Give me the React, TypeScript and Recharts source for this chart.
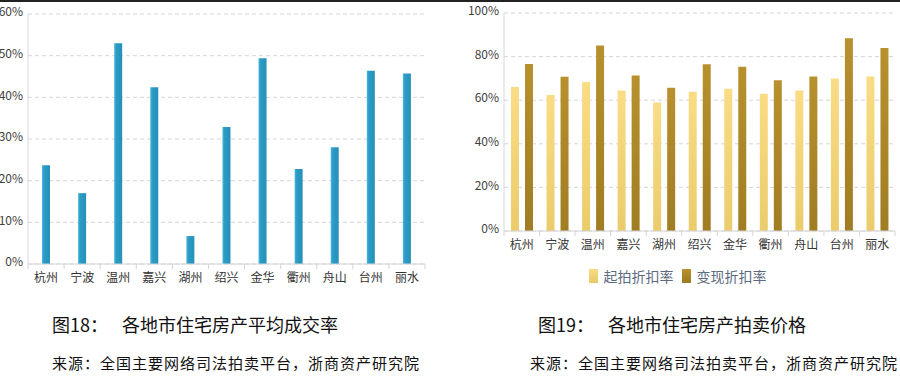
import React from 'react';
import { BarChart, Bar, XAxis, YAxis, CartesianGrid, Legend } from 'recharts';

// cities shared by both charts
const cities = ['杭州', '宁波', '温州', '嘉兴', '湖州', '绍兴', '金华', '衢州', '舟山', '台州', '丽水'];

// fig 18: average deal rate (%)
const dealRate = [23.7, 17.0, 53.0, 42.4, 6.7, 32.9, 49.4, 22.8, 28.0, 46.4, 45.7];

// fig 19: starting discount vs realised discount (%)
const startDiscount = [66.1, 62.4, 68.4, 64.4, 59.0, 63.9, 65.3, 63.0, 64.5, 70.0, 70.9];
const realDiscount = [76.6, 70.7, 85.1, 71.3, 65.7, 76.5, 75.3, 69.1, 70.9, 88.4, 84.0];

const leftTicks = [0, 10, 20, 30, 40, 50, 60];
const rightTicks = [0, 20, 40, 60, 80, 100];

const rateData = cities.map((c, i) => ({ city: c, rate: dealRate[i] }));
const priceData = cities.map((c, i) => ({ city: c, start: startDiscount[i], real: realDiscount[i] }));

const FONT = "'Noto Sans CJK SC', 'Noto Sans', sans-serif";

// category label plus a small divider tick at the left edge of the band
const CityTick = ({ x, y, payload, band }: any) => (
  <g>
    <line x1={x - band / 2} y1={y - 8} x2={x - band / 2} y2={y - 3} stroke="#d4d4d4" />
    {payload.index === cities.length - 1 && (
      <line x1={x + band / 2} y1={y - 8} x2={x + band / 2} y2={y - 3} stroke="#d4d4d4" />
    )}
    <text x={x} y={y + 10} textAnchor="middle" fontSize={12} fill="#333" fontFamily={FONT}>
      {payload.value}
    </text>
  </g>
);

const PriceLegend = () => (
  <div style={{ display: 'flex', justifyContent: 'center', alignItems: 'center', paddingTop: 4, fontFamily: FONT, fontSize: 14, color: '#5d6b80' }}>
    <span style={{ display: 'inline-block', width: 9, height: 14, background: 'linear-gradient(#f8dc85,#e9c965)', marginRight: 6 }} />
    <span style={{ marginRight: 8 }}>起拍折扣率</span>
    <span style={{ display: 'inline-block', width: 9, height: 14, background: 'linear-gradient(#b8922e,#9c7a22)', marginRight: 6 }} />
    <span>变现折扣率</span>
  </div>
);

const Caption = ({ left, fig, title }: any) => (
  <div style={{ position: 'absolute', left, top: 311, fontSize: 18, color: '#111', fontFamily: FONT, whiteSpace: 'nowrap' }}>
    {fig}<span style={{ marginLeft: 14 }}>{title}</span>
  </div>
);

export default function App() {
  return (
    <div style={{ position: 'absolute', left: 0, top: 0, width: 900, height: 380, background: '#fff', overflow: 'hidden' }}>
      <div style={{ position: 'absolute', left: 0, top: 0, width: 900, height: 2, background: '#222' }} />

      <div style={{ position: 'absolute', left: 0, top: 0 }}>
        <BarChart width={440} height={290} data={rateData} margin={{ top: 14, right: 15, bottom: 0, left: 0 }}>
          <defs>
            <linearGradient id="blueBar" x1="0" y1="0" x2="1" y2="0">
              <stop offset="0" stopColor="#4fb6dc" />
              <stop offset="0.25" stopColor="#2a9dc7" />
              <stop offset="1" stopColor="#2590b8" />
            </linearGradient>
          </defs>
          <CartesianGrid vertical={false} stroke="#d6d6d6" strokeDasharray="4 3" />
          <XAxis
            dataKey="city"
            height={26}
            axisLine={{ stroke: '#d4d4d4' }}
            tickLine={false}
            interval={0}
            tick={<CityTick band={36.1} />}
          />
          <YAxis
            width={28}
            domain={[0, 60]}
            ticks={leftTicks}
            tickFormatter={(v) => `${v}%`}
            axisLine={{ stroke: '#d9d9d9' }}
            tickLine={false}
            tickSize={3}
            tick={{ fontSize: 12, fill: '#404040', fontFamily: FONT, dy: -2 }}
          />
          <Bar dataKey="rate" fill="url(#blueBar)" barSize={8} isAnimationActive={false} />
        </BarChart>
      </div>

      <div style={{ position: 'absolute', left: 460, top: 0 }}>
        <BarChart width={440} height={290} data={priceData} margin={{ top: 13, right: 5, bottom: 0, left: 0 }} barGap={6}>
          <defs>
            <linearGradient id="lightBar" x1="0" y1="0" x2="0" y2="1">
              <stop offset="0" stopColor="#f9dc84" />
              <stop offset="1" stopColor="#ebcc6c" />
            </linearGradient>
            <linearGradient id="darkBar" x1="0" y1="0" x2="0" y2="1">
              <stop offset="0" stopColor="#b7912d" />
              <stop offset="1" stopColor="#a07d22" />
            </linearGradient>
          </defs>
          <CartesianGrid vertical={false} stroke="#d6d6d6" strokeDasharray="4 3" />
          <XAxis
            dataKey="city"
            height={31}
            axisLine={{ stroke: '#d4d4d4' }}
            tickLine={false}
            interval={0}
            tick={<CityTick band={35.5} />}
          />
          <YAxis
            width={44}
            domain={[0, 100]}
            ticks={rightTicks}
            tickFormatter={(v) => `${v}%`}
            axisLine={{ stroke: '#d9d9d9' }}
            tickLine={false}
            tickSize={3}
            tick={{ fontSize: 12, fill: '#404040', fontFamily: FONT, dy: -2 }}
          />
          <Legend verticalAlign="bottom" height={28} content={<PriceLegend />} />
          <Bar dataKey="start" name="起拍折扣率" fill="url(#lightBar)" barSize={8} isAnimationActive={false} />
          <Bar dataKey="real" name="变现折扣率" fill="url(#darkBar)" barSize={8} isAnimationActive={false} />
        </BarChart>
      </div>

      <Caption left={52} fig="图18：" title="各地市住宅房产平均成交率" />
      <Caption left={538} fig="图19：" title="各地市住宅房产拍卖价格" />
      <div style={{ position: 'absolute', left: 52, top: 352, fontSize: 15, color: '#111', fontFamily: FONT, whiteSpace: 'nowrap', letterSpacing: 1 }}>
        来源：全国主要网络司法拍卖平台，浙商资产研究院
      </div>
      <div style={{ position: 'absolute', left: 530, top: 352, fontSize: 15, color: '#111', fontFamily: FONT, whiteSpace: 'nowrap', letterSpacing: 1 }}>
        来源：全国主要网络司法拍卖平台，浙商资产研究院
      </div>
    </div>
  );
}
